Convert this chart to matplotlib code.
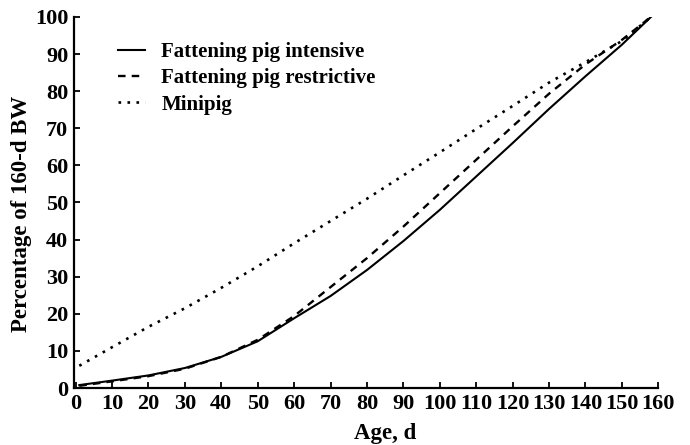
import matplotlib
matplotlib.use("Agg")
import matplotlib.pyplot as plt

# Relative body weight (% of 160-d BW) by age.
age = [1, 10, 20, 30, 40, 50, 60, 70, 80, 90, 100, 110, 120, 130, 140, 150, 158]
intensive = [0.8, 2.0, 3.4, 5.4, 8.4, 12.6, 18.8, 24.8, 31.8, 39.6, 48.0, 57.0, 66.0, 75.2, 84.0, 92.5, 100]
restrictive = [0.6, 1.8, 3.2, 5.2, 8.4, 13.0, 19.4, 27.2, 35.0, 43.5, 52.5, 61.5, 70.5, 79.3, 87.2, 93.8, 100]
minipig = [6.0, 11.0, 16.5, 21.5, 27.0, 32.8, 39.0, 45.0, 51.0, 57.3, 63.5, 69.8, 76.0, 82.3, 87.8, 93.5, 100]

xticks = list(range(0, 161, 10))
yticks = list(range(0, 101, 10))

plt.rcParams.update({
    "font.family": "Liberation Serif",
    "font.weight": "bold",
    "font.size": 15,
})

fig = plt.figure(figsize=(6.9, 4.45), dpi=100)
ax = fig.add_axes([0.107, 0.128, 0.847, 0.834])

ax.plot(age, intensive, color="black", lw=1.5, ls="-", label="Fattening pig intensive")
ax.plot(age, restrictive, color="black", lw=1.7, ls=(0, (3.2, 2.6)), label="Fattening pig restrictive")
ax.plot(age, minipig, color="black", lw=1.9, ls=(0, (1, 2.4)), label="Minipig")

ax.set_xlim(-0.5, 160)
ax.set_ylim(0, 100)
ax.set_xticks(xticks)
ax.set_yticks(yticks)
ax.tick_params(direction="in", length=4, width=1.3, labelsize=16, pad=4)
for lab in ax.get_xticklabels() + ax.get_yticklabels():
    lab.set_fontweight("bold")

for side in ("top", "right"):
    ax.spines[side].set_visible(False)
for side in ("left", "bottom"):
    ax.spines[side].set_linewidth(1.6)

ax.set_xlabel("Age, d", fontweight="bold", fontsize=16.5)
ax.set_ylabel("Percentage of 160-d BW", fontweight="bold", fontsize=16.5)
ax.xaxis.set_label_coords(0.533, -0.093)
ax.yaxis.set_label_coords(-0.071, 0.47)

ax.legend(loc="upper left", bbox_to_anchor=(0.075, 0.932), frameon=False,
          borderpad=0, borderaxespad=0,
          handlelength=1.3, handletextpad=0.8, labelspacing=0.3,
          prop={"family": "Liberation Serif", "weight": "bold", "size": 15})

fig.savefig("out.png", dpi=100)
